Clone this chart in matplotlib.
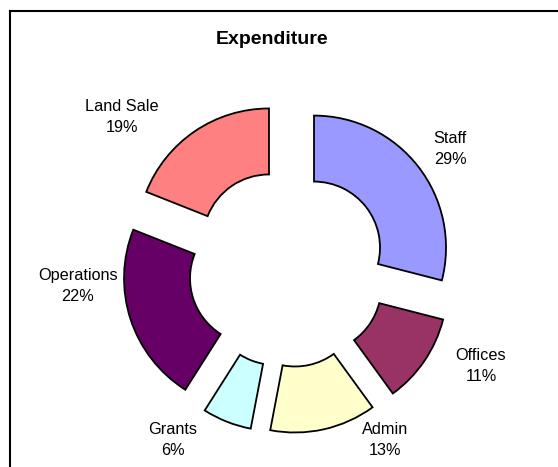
import matplotlib
matplotlib.use("Agg")
import matplotlib.pyplot as plt
from matplotlib.lines import Line2D

plt.rcParams['font.family'] = ['Liberation Sans', 'DejaVu Sans']

categories = ["Staff", "Offices", "Admin", "Grants", "Operations", "Land Sale"]
values = [29, 11, 13, 6, 22, 19]
colors = ["#9999FF", "#993366", "#FFFFCC", "#CCFFFF", "#660066", "#FF8080"]
title = "Expenditure"

W, H = 558, 467
fig = plt.figure(figsize=(W / 100, H / 100), dpi=100)
ax = fig.add_axes([0, 0, 1, 1])

R = 132
cx, cy = 287.7, H - 268
explode_dist = 33.3  # matplotlib explode offset is in data units

ax.pie(values, colors=colors, startangle=90, counterclock=False,
       radius=R, center=(cx, cy), explode=[explode_dist] * len(values),
       wedgeprops=dict(width=66, edgecolor="black", linewidth=1.3))
ax.set_xlim(0, W)
ax.set_ylim(0, H)
ax.set_aspect('auto')
ax.axis('off')

# label positions (pixels, top-left origin)
label_pos = [(450, 149), (481, 366), (385, 440), (173, 440), (78, 286), (122, 117)]
total = sum(values)
for name, v, (lx, ly) in zip(categories, values, label_pos):
    ax.text(lx, H - ly, f"{name}\n{round(100 * v / total)}%", ha="center", va="center",
            fontsize=11.7, linespacing=1.5, color="black")

ax.text(272, H - 40, title, ha="center", va="center", fontsize=14, fontweight="bold")

# chart border (left and top visible)
fig.add_artist(Line2D([9.5 / W, 9.5 / W], [0, 1 - 10.5 / H], transform=fig.transFigure,
                      color="black", linewidth=1.5))
fig.add_artist(Line2D([9.5 / W, 1], [1 - 10.5 / H, 1 - 10.5 / H], transform=fig.transFigure,
                      color="black", linewidth=1.5))

fig.savefig("out.png", dpi=100)
